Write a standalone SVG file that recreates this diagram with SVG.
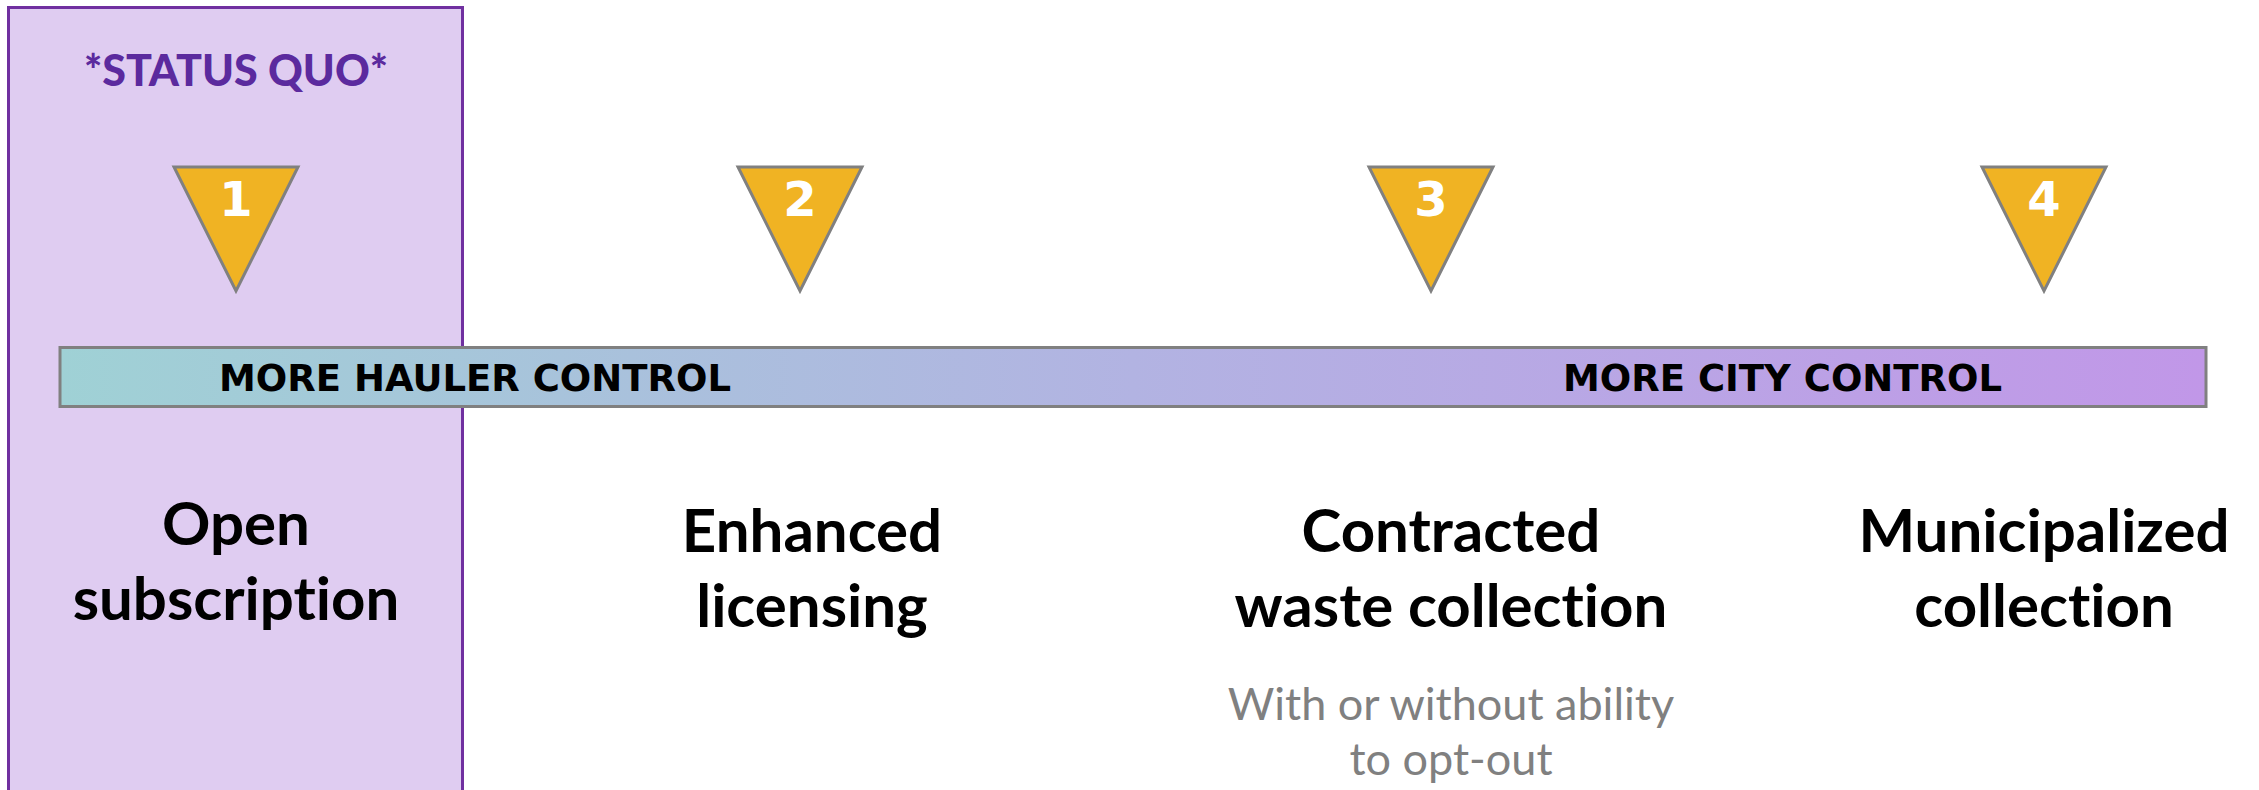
<svg xmlns="http://www.w3.org/2000/svg" width="2259" height="790" viewBox="0 0 2259 790">
  <defs>
    <linearGradient id="barGrad" x1="0" y1="0" x2="1" y2="0">
      <stop offset="0" stop-color="#9FD1D5"/>
      <stop offset="0.5" stop-color="#B2B3E2"/>
      <stop offset="1" stop-color="#C197E8"/>
    </linearGradient>
    <style>
      text { font-variant-ligatures: none; }
      .tri { fill: #F0B323; stroke: #808080; stroke-width: 3; stroke-linejoin: miter; }
      .num { font-family: "DejaVu Sans", Verdana, sans-serif; font-weight: bold; font-size: 48px; fill: #FFFFFF; text-anchor: middle; }
      .lbl { font-family: Lato, "Liberation Sans", sans-serif; font-weight: bold; font-size: 60px; fill: #000000; text-anchor: middle; }
      .sub { font-family: Lato, "Liberation Sans", sans-serif; font-weight: normal; font-size: 45px; fill: #808080; text-anchor: middle; }
      .bartxt { font-family: "DejaVu Sans", Verdana, sans-serif; font-weight: bold; font-size: 37px; fill: #000000; }
    </style>
  </defs>
  <rect width="2259" height="790" fill="#FFFFFF"/>

  <g id="status-quo">
    <rect x="8.5" y="7.5" width="454" height="800" fill="#DFCCF1" stroke="#7030A0" stroke-width="3"/>
    <text x="236" y="86" font-family="Lato, 'Liberation Sans', sans-serif" font-weight="900" font-size="43" fill="#5B2A9E" text-anchor="middle">*STATUS QUO*</text>
  </g>

  <g id="marker-1">
    <polygon class="tri" points="174,167 298,167 236,291"/>
    <text class="num" x="236" y="216">1</text>
  </g>
  <g id="marker-2">
    <polygon class="tri" points="738,167 862,167 800,291"/>
    <text class="num" x="800" y="216">2</text>
  </g>
  <g id="marker-3">
    <polygon class="tri" points="1369,167 1493,167 1431,291"/>
    <text class="num" x="1431" y="216">3</text>
  </g>
  <g id="marker-4">
    <polygon class="tri" points="1982,167 2106,167 2044,291"/>
    <text class="num" x="2044" y="216">4</text>
  </g>

  <g id="control-bar">
    <rect x="60" y="347.5" width="2146" height="59" fill="url(#barGrad)" stroke="#808080" stroke-width="3"/>
    <text class="bartxt" x="219" y="391">MORE HAULER CONTROL</text>
    <text class="bartxt" x="1563" y="391">MORE CITY CONTROL</text>
  </g>

  <g id="option-1">
    <text class="lbl" x="236" y="545">Open</text>
    <text class="lbl" x="236" y="620">subscription</text>
  </g>
  <g id="option-2">
    <text class="lbl" x="812" y="552">Enhanced</text>
    <text class="lbl" x="812" y="627">licensing</text>
  </g>
  <g id="option-3">
    <text class="lbl" x="1451" y="552">Contracted</text>
    <text class="lbl" x="1451" y="627">waste collection</text>
    <text class="sub" x="1451" y="720">With or without ability</text>
    <text class="sub" x="1451" y="775">to opt-out</text>
  </g>
  <g id="option-4">
    <text class="lbl" x="2044" y="552">Municipalized</text>
    <text class="lbl" x="2044" y="627">collection</text>
  </g>

  <g id="connectors"></g>
</svg>
